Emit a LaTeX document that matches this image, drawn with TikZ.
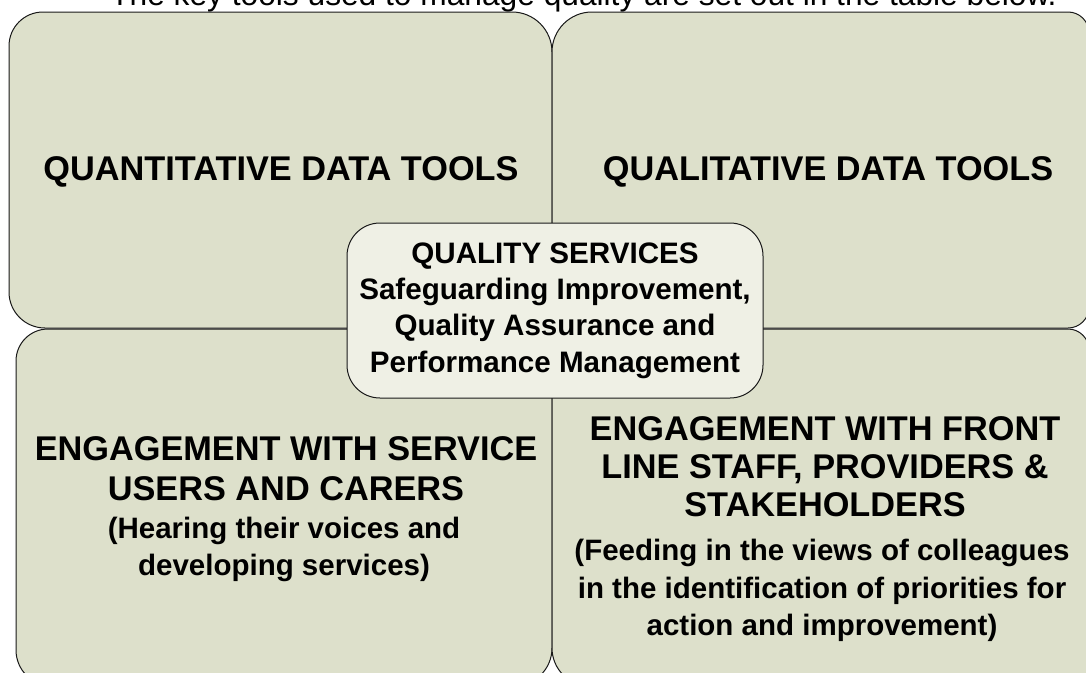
\documentclass[tikz,border=0pt]{standalone}
\usepackage{fontspec}
\setmainfont{Liberation Sans}
\definecolor{panelfill}{RGB}{221,224,203}
\definecolor{corefill}{RGB}{239,240,229}
\definecolor{edge}{RGB}{25,25,25}
% Panel with its own radius at each corner:
% #1,#2 = left, top; #3,#4 = right, bottom (y measured downwards);
% #5..#8 = radii at top-left, top-right, bottom-right, bottom-left.
\newcommand\panelpath[8]{%
  \draw[panel] ({#1+#5},{-#2}) -- ({#3-#6},{-#2})
    arc[start angle=90,end angle=0,radius=#6pt] -- ({#3},{-(#4-#7)})
    arc[start angle=0,end angle=-90,radius=#7pt] -- ({#1+#8},{-#4})
    arc[start angle=-90,end angle=-180,radius=#8pt] -- ({#1},{-(#2+#5)})
    arc[start angle=180,end angle=90,radius=#5pt] -- cycle;}
\begin{document}
\begin{tikzpicture}[x=1pt,y=1pt,
  panel/.style={fill=panelfill,draw=edge,line width=1pt},
  headtext/.style={font=\fontsize{34.3}{#1}\selectfont\bfseries,align=center,inner sep=0pt,anchor=north},
  subtext/.style={font=\fontsize{29.5}{#1}\selectfont\bfseries,align=center,inner sep=0pt,anchor=north},
  core/.style={draw=edge,fill=corefill,line width=1pt,rounded corners=33pt,
    minimum width=416pt,minimum height=175pt,inner sep=0pt,align=center,
    font=\fontsize{29.6}{36.3}\selectfont\bfseries}]
\useasboundingbox (0,0) rectangle (1086,-672);
\clip (0,0) rectangle (1086,-672);

% intro sentence above the matrix
\node[anchor=base,inner sep=0pt,font=\fontsize{31.7}{38}\selectfont] (intro) at (583.5,-5.5)
  {The key tools used to manage quality are set out in the table below.};

% the four quadrants
\panelpath{9}{12}{552}{328}{34}{40}{38}{36}
\panelpath{552}{12}{1089}{328}{40}{21}{21}{38}
\panelpath{16}{329}{552}{686}{32}{38}{38}{36}
\panelpath{552}{329}{1089}{686}{38}{21}{21}{38}

\node[headtext=38.5] (quant) at (281,-153.3) {\strut QUANTITATIVE DATA TOOLS};
\node[headtext=38.5] (qual) at (828,-153.3) {\strut QUALITATIVE DATA TOOLS};

\node[headtext=39.5] (usersHead) at (286,-433.1)
  {\strut ENGAGEMENT WITH SERVICE\\\strut USERS AND CARERS};
\node[subtext=37] (usersSub) at (284,-512.2)
  {\strut (Hearing their voices and\\\strut developing services)};

\node[headtext=38] (staffHead) at (825,-413.7)
  {\strut ENGAGEMENT WITH FRONT\\\strut LINE STAFF, PROVIDERS \&\\\strut STAKEHOLDERS};
\node[subtext=37.5] (staffSub) at (822,-534.3)
  {\strut (Feeding in the views of colleagues\\\strut in the identification of priorities for\\\strut action and improvement)};

% central box
\node[core] (core) at (555,-310.5)
  {\strut QUALITY SERVICES\\\strut Safeguarding Improvement,\\\strut Quality Assurance and\\\strut Performance Management};
\end{tikzpicture}
\end{document}
